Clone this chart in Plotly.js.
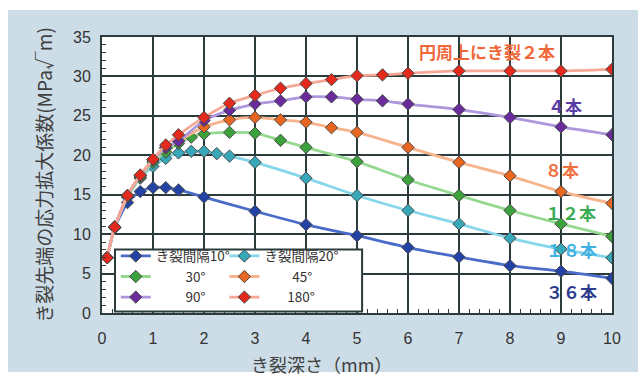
<!DOCTYPE html>
<html>
<head>
<meta charset="utf-8">
<script src="https://cdn.plot.ly/plotly-3.0.1.min.js"></script>
<style>
  html, body { margin: 0; padding: 0; background: #ffffff; }
  #bgpanel { position: absolute; left: 8px; top: 10px; width: 630px; height: 362px; background: #cddde7; }
  #chart { position: absolute; left: 0; top: 0; width: 642px; height: 378px; }
</style>
</head>
<body>
<div id="bgpanel"></div>
<div id="chart"></div>
<script>
// crack depth (mm) and stress intensity factor (MPa√m) per crack spacing
const x10 = [0.1, 0.25, 0.5, 0.75, 1, 1.25, 1.5, 2, 3, 4, 5, 6, 7, 8, 9, 10];
const k10 = [7.0, 10.8, 14.0, 15.4, 15.9, 15.9, 15.6, 14.7, 12.9, 11.2, 9.8, 8.3, 7.1, 6.0, 5.3, 4.4];

const x20 = [0.1, 0.25, 0.5, 0.75, 1, 1.25, 1.5, 1.75, 2, 2.25, 2.5, 3, 4, 5, 6, 7, 8, 9, 10];
const k20 = [7.0, 10.9, 14.7, 17.1, 18.6, 19.6, 20.3, 20.5, 20.5, 20.2, 19.9, 19.1, 17.1, 14.9, 13.0, 11.3, 9.5, 8.1, 7.0];

const x30 = [0.1, 0.25, 0.5, 0.75, 1, 1.25, 1.5, 1.75, 2, 2.5, 3, 3.5, 4, 5, 6, 7, 8, 9, 10];
const k30 = [7.0, 10.9, 14.8, 17.2, 19.1, 20.4, 21.5, 22.3, 22.7, 22.9, 22.8, 21.9, 21.0, 19.2, 16.9, 14.9, 13.0, 11.3, 9.7];

const x45 = [0.1, 0.25, 0.5, 0.75, 1, 1.25, 1.5, 2, 2.5, 3, 3.5, 4, 4.5, 5, 6, 7, 8, 9, 10];
const k45 = [7.0, 10.9, 14.9, 17.4, 19.4, 20.9, 21.8, 23.6, 24.5, 24.8, 24.5, 24.2, 23.5, 22.9, 21.0, 19.1, 17.4, 15.4, 13.9];

const x90 = [0.1, 0.25, 0.5, 0.75, 1, 1.25, 1.5, 2, 2.5, 3, 3.5, 4, 4.5, 5, 5.5, 6, 7, 8, 9, 10];
const k90 = [7.0, 10.9, 14.9, 17.4, 19.4, 21.0, 21.8, 24.4, 25.7, 26.5, 26.9, 27.4, 27.4, 27.1, 26.9, 26.5, 25.8, 24.8, 23.6, 22.6];

const x180 = [0.1, 0.25, 0.5, 0.75, 1, 1.25, 1.5, 2, 2.5, 3, 3.5, 4, 4.5, 5, 5.5, 6, 7, 8, 9, 10];
const k180 = [7.0, 10.9, 14.9, 17.5, 19.5, 21.3, 22.6, 24.8, 26.6, 27.6, 28.5, 29.1, 29.6, 30.1, 30.2, 30.4, 30.7, 30.7, 30.7, 30.9];

const seriesNames = ["き裂間隔10°", "き裂間隔20°", "\u3000\u3000\u200930°", "\u3000\u3000\u200a45°", "\u3000\u3000\u200990°", "\u3000\u2002\u2009180°"];

// labels on the right: text, x, y
const labelTexts = ["円周上にき裂２本", "４本", "８本", "１２本", "１８本", "３６本"];
const labelX = [7.55, 9.08, 9.02, 9.18, 9.2, 9.2];
const labelY = [33.1, 26.3, 18.2, 12.7, 8.0, 2.7];
const xTitle = "き裂深さ（mm）";
const yTitle = "き裂先端の応力拡大係数(MPa√m)";

const lineColors = ["#4a6cc8", "#86d6ec", "#95d88f", "#f7b38c", "#ad98de", "#f6a896"];
const markerColors = ["#2342a6", "#36a8ba", "#3ca23c", "#e8661f", "#6a2c9c", "#e32a1d"];
const labelColors = ["#f0683a", "#5a3ca6", "#f07040", "#3aab55", "#3fb2e2", "#2c3c8c"];

const xs = [x10, x20, x30, x45, x90, x180];
const ks = [k10, k20, k30, k45, k90, k180];
const legendIds = ["legend", "legend2", "legend", "legend2", "legend", "legend2"];

const traces = xs.map((xv, i) => ({
  type: "scatter",
  mode: "lines+markers",
  x: xv,
  y: ks[i],
  name: seriesNames[i],
  legend: legendIds[i],
  line: { color: lineColors[i], width: 2.8, shape: "spline", smoothing: 0.6 },
  marker: { symbol: "diamond", size: 9.5, color: markerColors[i], line: { color: "#4a4a4a", width: 1 } }
}));

const cjk = "'Noto Sans CJK JP', 'Noto Sans', sans-serif";
const gridCol = "#2c3b3b";

const annotations = labelTexts.map((t, i) => ({
  x: labelX[i], y: labelY[i], xref: "x", yref: "y",
  text: "<b>" + t + "</b>", showarrow: false,
  font: { family: cjk, size: 17, color: labelColors[i] },
  xanchor: "center", yanchor: "middle"
}));
annotations.push({
  x: 0.431, y: -0.185, xref: "paper", yref: "paper",
  text: xTitle, showarrow: false,
  font: { family: cjk, size: 18, color: "#404040" },
  xanchor: "center", yanchor: "middle"
});

const layout = {
  width: 642, height: 378,
  margin: { l: 102, r: 30, t: 37, b: 65 },
  paper_bgcolor: "rgba(0,0,0,0)",
  plot_bgcolor: "#ffffff",
  showlegend: true,
  xaxis: {
    range: [0, 10], dtick: 1, tick0: 0,
    showgrid: true, gridcolor: gridCol, gridwidth: 2,
    showline: true, linecolor: gridCol, linewidth: 2, mirror: true,
    zeroline: false, ticks: "",
    ticklabelstandoff: 10,
    tickfont: { family: "'Liberation Sans', Arial, sans-serif", size: 16, color: "#333" },
    minor: { ticks: "inside", dtick: 0.2, ticklen: 4, tickcolor: gridCol, tickwidth: 1, showgrid: false }
  },
  yaxis: {
    range: [0, 35], dtick: 5, tick0: 0,
    showgrid: true, gridcolor: gridCol, gridwidth: 2,
    showline: true, linecolor: gridCol, linewidth: 2, mirror: true,
    zeroline: false, ticks: "",
    ticklabelstandoff: 6,
    tickfont: { family: "'Liberation Sans', Arial, sans-serif", size: 16, color: "#333" },
    minor: { ticks: "inside", dtick: 1, ticklen: 4, tickcolor: gridCol, tickwidth: 1, showgrid: false },
    title: { text: yTitle, font: { family: cjk, size: 19, color: "#404040" }, standoff: 15 }
  },
  legend: {
    x: 0.027, y: 0.262, xanchor: "left", yanchor: "top",
    bgcolor: "rgba(0,0,0,0)", borderwidth: 0,
    font: { family: cjk, size: 13.5, color: "#333" },
    traceorder: "normal", tracegroupgap: 0
  },
  legend2: {
    x: 0.24, y: 0.262, xanchor: "left", yanchor: "top",
    bgcolor: "rgba(0,0,0,0)", borderwidth: 0,
    font: { family: cjk, size: 13.5, color: "#333" },
    traceorder: "normal", tracegroupgap: 0
  },
  shapes: [{
    type: "rect", xref: "paper", yref: "paper", layer: "above",
    x0: 0.0255, x1: 0.51, y0: 0.005, y1: 0.23,
    fillcolor: "#ffffff", line: { color: "#2c3b3b", width: 2 }
  }],
  annotations: annotations
};

Plotly.newPlot("chart", traces, layout, { displayModeBar: false, staticPlot: true });
</script>
</body>
</html>
